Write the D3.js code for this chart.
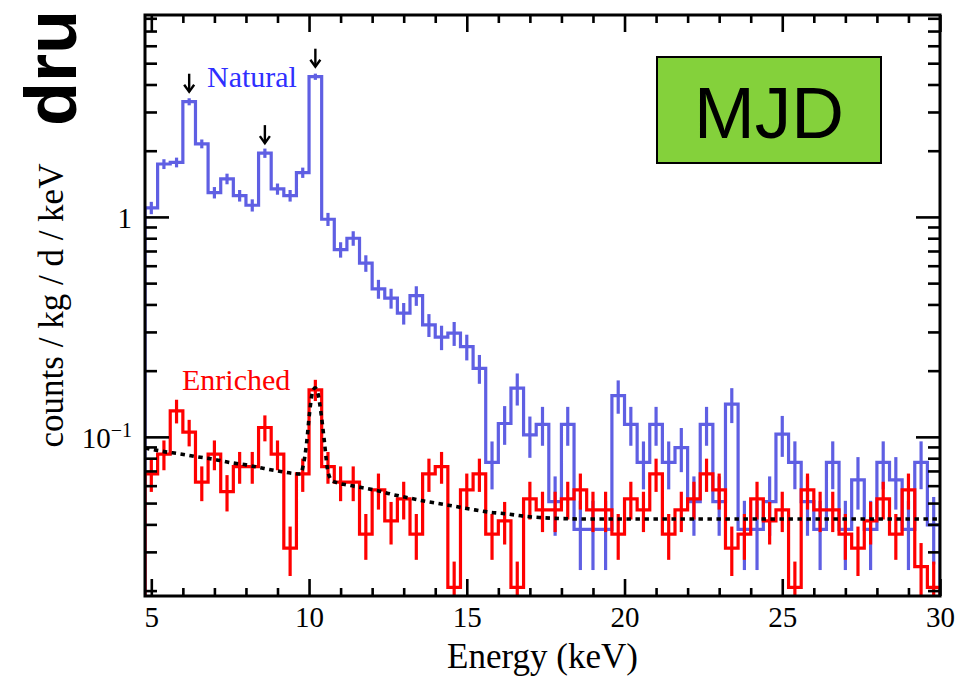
<!DOCTYPE html>
<html>
<head>
<meta charset="utf-8">
<script src="https://cdn.jsdelivr.net/npm/d3@7"></script>
<style>
  body { margin: 0; background: #fff; }
</style>
</head>
<body>
<svg id="chart"></svg>
<script>
// bin centres (keV), bins are 0.4 keV wide
const binCenter = [5.0, 5.4, 5.8, 6.2, 6.6, 7.0, 7.4, 7.8, 8.2, 8.6,
  9.0, 9.4, 9.8, 10.2, 10.6, 11.0, 11.4, 11.8, 12.2, 12.6,
  13.0, 13.4, 13.8, 14.2, 14.6, 15.0, 15.4, 15.8, 16.2, 16.6,
  17.0, 17.4, 17.8, 18.2, 18.6, 19.0, 19.4, 19.8, 20.2, 20.6,
  21.0, 21.4, 21.8, 22.2, 22.6, 23.0, 23.4, 23.8, 24.2, 24.6,
  25.0, 25.4, 25.8, 26.2, 26.6, 27.0, 27.4, 27.8, 28.2, 28.6,
  29.0, 29.4, 29.8];
const binWidth = 0.4;

const naturalRate = [1.10, 1.74, 1.77, 3.34, 2.15, 1.29, 1.49, 1.25, 1.13, 1.95,
  1.34, 1.25, 1.59, 4.34, 0.976, 0.71, 0.80, 0.616, 0.471, 0.427,
  0.365, 0.439, 0.323, 0.284, 0.296, 0.257, 0.205, 0.0765, 0.115, 0.1665,
  0.102, 0.114, 0.0508, 0.114, 0.038, 0.038, 0.038, 0.154, 0.114, 0.0765,
  0.114, 0.0765, 0.0894, 0.0508, 0.114, 0.0508, 0.141, 0.038, 0.038, 0.0508,
  0.1028, 0.0766, 0.0508, 0.038, 0.0766, 0.038, 0.0638, 0.038, 0.0766, 0.0638,
  0.038, 0.0766, 0.0398];
const naturalErr = [0.0711, 0.0895, 0.0902, 0.124, 0.0994, 0.077, 0.0828, 0.0758, 0.0721, 0.0947,
  0.0785, 0.0758, 0.0855, 0.141, 0.067, 0.0571, 0.0607, 0.0532, 0.0465, 0.0443,
  0.041, 0.0449, 0.0385, 0.0361, 0.0369, 0.0344, 0.0307, 0.0188, 0.023, 0.0277,
  0.0217, 0.0229, 0.0153, 0.0229, 0.0132, 0.0132, 0.0132, 0.0266, 0.0229, 0.0188,
  0.0229, 0.0188, 0.0203, 0.0153, 0.0229, 0.0153, 0.0255, 0.0132, 0.0132, 0.0153,
  0.0217, 0.0188, 0.0153, 0.0132, 0.0188, 0.0132, 0.0171, 0.0132, 0.0188, 0.0171,
  0.0132, 0.0188, 0.0135];

const enrichedRate = [0.0679, 0.0834, 0.1313, 0.105, 0.0622, 0.0834, 0.0564, 0.0733, 0.0733, 0.1103,
  0.0834, 0.0312, 0.0679, 0.1636, 0.0733, 0.0622, 0.0622, 0.0361, 0.0574, 0.0415,
  0.0523, 0.0361, 0.0679, 0.0733, 0.0207, 0.0574, 0.0679, 0.0361, 0.0415, 0.0207,
  0.0523, 0.0466, 0.0466, 0.0523, 0.0574, 0.0466, 0.0466, 0.0361, 0.0523, 0.0466,
  0.0679, 0.0361, 0.0466, 0.0523, 0.0679, 0.0574, 0.0312, 0.0361, 0.0523, 0.0415,
  0.0466, 0.0207, 0.0574, 0.0466, 0.0466, 0.0361, 0.0312, 0.0415, 0.0523, 0.0361,
  0.0574, 0.0257, 0.0207];
const enrichedErr = [0.0117, 0.0129, 0.0162, 0.0145, 0.0112, 0.0129, 0.0106, 0.0121, 0.0121, 0.0149,
  0.0129, 0.0079, 0.0117, 0.0181, 0.0121, 0.0112, 0.0112, 0.0085, 0.0107, 0.0091,
  0.0102, 0.0085, 0.0117, 0.0121, 0.0064, 0.0107, 0.0117, 0.0085, 0.0091, 0.0064,
  0.0102, 0.0097, 0.0097, 0.0102, 0.0107, 0.0097, 0.0097, 0.0085, 0.0102, 0.0097,
  0.0117, 0.0085, 0.0097, 0.0102, 0.0117, 0.0107, 0.0079, 0.0085, 0.0102, 0.0091,
  0.0097, 0.0064, 0.0107, 0.0097, 0.0097, 0.0085, 0.0079, 0.0091, 0.0102, 0.0085,
  0.0107, 0.0072, 0.0064];

// background + peak fit on the enriched spectrum
const fitEnergy = [4.8, 5.4, 5.9, 6.4, 7.0, 7.5, 8.0, 8.5, 9.0, 9.5,
  9.72, 9.82, 9.92, 10.02, 10.11, 10.19, 10.28, 10.38, 10.48, 10.58,
  10.68, 10.8, 11.2, 11.7, 12.2, 12.6, 13.1, 13.6, 14.15, 14.7,
  15.2, 15.7, 16.3, 16.8, 17.3, 18.0, 19.0, 30.0];
const fitRate = [0.089, 0.0857, 0.0837, 0.0814, 0.079, 0.0764, 0.0746, 0.0722, 0.07, 0.0682,
  0.0678, 0.0746, 0.093, 0.13, 0.16, 0.167, 0.158, 0.128, 0.097, 0.072,
  0.0645, 0.0625, 0.0605, 0.0587, 0.0568, 0.0549, 0.053, 0.0512, 0.0496, 0.0481,
  0.0467, 0.0455, 0.0446, 0.0436, 0.043, 0.0425, 0.0423, 0.0423];

const peakEnergy = [6.2, 8.6, 10.2];
const xMajor = [5, 10, 15, 20, 25, 30];
const yMajor = [0.1, 1];

const serifFont = "Liberation Serif";
const sansFont = "Liberation Sans";

const width = 974, height = 676;
const plot = {left: 145, right: 940, top: 15, bottom: 596};

const svg = d3.select("#chart")
  .attr("width", width)
  .attr("height", height);

const x = d3.scaleLinear()
  .domain([4.8, 30])
  .range([plot.left, plot.right]);
const y = d3.scaleLog()
  .domain([0.0189, 8.28])
  .range([plot.bottom, plot.top]);

svg.append("defs").append("clipPath")
  .attr("id", "clip")
  .append("rect")
  .attr("x", plot.left).attr("y", plot.top)
  .attr("width", plot.right - plot.left)
  .attr("height", plot.bottom - plot.top);

const g = svg.append("g").attr("clip-path", "url(#clip)");

function histPoints(rates){
  var pts = [[x.domain()[0], y.domain()[0]]];
  rates.forEach(function(v, i){
    pts.push([binCenter[i] - binWidth / 2, v]);
    pts.push([binCenter[i] + binWidth / 2, v]);
  });
  pts.push([x.domain()[1], y.domain()[0]]);
  return pts;
}

const histLine = d3.line()
  .x((d) => x(d[0]))
  .y((d) => y(Math.max(d[1], y.domain()[0])));

function drawHist(rates, errs, colour){
  g.append("path")
   .datum(histPoints(rates))
   .attr("d", histLine)
   .attr("fill", "none")
   .attr("stroke", colour)
   .attr("stroke-width", 3.2)
   .attr("stroke-linejoin", "miter");

  g.selectAll(null)
   .data(rates)
   .enter()
   .append("line")
   .attr("x1", (d, i) => x(binCenter[i]))
   .attr("x2", (d, i) => x(binCenter[i]))
   .attr("y1", (d, i) => y(Math.max(d - errs[i], 0.005)))
   .attr("y2", (d, i) => y(d + errs[i]))
   .attr("stroke", colour)
   .attr("stroke-width", 3.2);
}

drawHist(naturalRate, naturalErr, "#5f5fe3");
drawHist(enrichedRate, enrichedErr, "#ff0000");

// fit curve
g.append("path")
 .datum(fitEnergy.map((e, i) => [e, fitRate[i]]))
 .attr("d", d3.line().x((d) => x(d[0])).y((d) => y(d[1])).curve(d3.curveMonotoneX))
 .attr("fill", "none")
 .attr("stroke", "#000")
 .attr("stroke-width", 3.6)
 .attr("stroke-dasharray", "4.5,4.5");

// arrows over the natural peaks
peakEnergy.forEach(function(e){
  var i = binCenter.findIndex((c) => Math.abs(c - e) < 0.01);
  var px = x(e);
  var tip = y(naturalRate[i]) - 10;
  svg.append("line")
     .attr("x1", px).attr("x2", px)
     .attr("y1", tip - 18).attr("y2", tip)
     .attr("stroke", "#000").attr("stroke-width", 2.4);
  svg.append("path")
     .attr("d", "M" + (px - 5) + "," + (tip - 7) + "L" + px + "," + tip + "L" + (px + 5) + "," + (tip - 7))
     .attr("fill", "none").attr("stroke", "#000").attr("stroke-width", 2.4);
});

// axes: ticks drawn inward on all four sides
const xMinor = d3.range(5, 31, 1).filter((d) => xMajor.indexOf(d) < 0);
const yMinor = y.ticks().filter((d) => yMajor.indexOf(d) < 0);

function styleAxis(sel){
  sel.attr("font-family", null).attr("font-size", null);
  sel.select(".domain").remove();
  sel.selectAll(".tick line").attr("stroke", "#000").attr("stroke-width", 2.6);
}

svg.append("g")
   .attr("transform", "translate(0," + plot.bottom + ")")
   .call(d3.axisBottom(x).tickValues(xMajor).tickSize(-17).tickPadding(10))
   .call(styleAxis)
   .selectAll("text")
   .style("font-family", serifFont)
   .style("font-size", "29px")
   .attr("fill", "#000");
svg.append("g")
   .attr("transform", "translate(0," + plot.bottom + ")")
   .call(d3.axisBottom(x).tickValues(xMinor).tickSize(-8).tickFormat(""))
   .call(styleAxis);
svg.append("g")
   .attr("transform", "translate(0," + plot.top + ")")
   .call(d3.axisTop(x).tickValues(xMajor).tickSize(-17).tickFormat(""))
   .call(styleAxis);
svg.append("g")
   .attr("transform", "translate(0," + plot.top + ")")
   .call(d3.axisTop(x).tickValues(xMinor).tickSize(-8).tickFormat(""))
   .call(styleAxis);

const yAxisG = svg.append("g")
   .attr("transform", "translate(" + plot.left + ",0)")
   .call(d3.axisLeft(y).tickValues(yMajor).tickSize(-24).tickFormat(""))
   .call(styleAxis);
svg.append("g")
   .attr("transform", "translate(" + plot.left + ",0)")
   .call(d3.axisLeft(y).tickValues(yMinor).tickSize(-12).tickFormat(""))
   .call(styleAxis);
svg.append("g")
   .attr("transform", "translate(" + plot.right + ",0)")
   .call(d3.axisRight(y).tickValues(yMajor).tickSize(-24).tickFormat(""))
   .call(styleAxis);
svg.append("g")
   .attr("transform", "translate(" + plot.right + ",0)")
   .call(d3.axisRight(y).tickValues(yMinor).tickSize(-12).tickFormat(""))
   .call(styleAxis);

// y tick labels: 1 and 10^-1
yAxisG.selectAll(".tick").each(function(d){
  var t = d3.select(this).append("text")
    .attr("x", -13)
    .attr("dy", "0.35em")
    .attr("text-anchor", "end")
    .style("font-family", serifFont)
    .style("font-size", "29px")
    .attr("fill", "#000");
  if (d === 1) {
    t.text("1");
  } else {
    t.append("tspan").text("10");
    t.append("tspan").attr("dy", -11).style("font-size", "20px").text("\u22121");
  }
});

// frame
svg.append("rect")
   .attr("x", plot.left).attr("y", plot.top)
   .attr("width", plot.right - plot.left)
   .attr("height", plot.bottom - plot.top)
   .attr("fill", "none")
   .attr("stroke", "#000")
   .attr("stroke-width", 3);

// axis titles
svg.append("text")
   .attr("x", (plot.left + plot.right) / 2)
   .attr("y", 668)
   .attr("text-anchor", "middle")
   .style("font-family", serifFont)
   .style("font-size", "35px")
   .text("Energy (keV)");
svg.append("text")
   .attr("transform", "translate(63," + ((plot.top + plot.bottom) / 2) + ") rotate(-90)")
   .attr("text-anchor", "middle")
   .style("font-family", serifFont)
   .style("font-size", "35px")
   .text("counts / kg / d / keV");

// series labels
svg.append("text")
   .attr("x", 207).attr("y", 87)
   .style("font-family", serifFont)
   .style("font-size", "30px")
   .attr("fill", "#2f2fff")
   .text("Natural");
svg.append("text")
   .attr("x", 182).attr("y", 390)
   .style("font-family", serifFont)
   .style("font-size", "30px")
   .attr("fill", "#ff0000")
   .text("Enriched");

// MJD badge
svg.append("rect")
   .attr("x", 657).attr("y", 57)
   .attr("width", 224).attr("height", 106)
   .attr("fill", "#84d13b")
   .attr("stroke", "#000")
   .attr("stroke-width", 2);
svg.append("text")
   .attr("x", 769).attr("y", 138)
   .attr("text-anchor", "middle")
   .style("font-family", sansFont)
   .style("font-size", "73px")
   .text("MJD");

// cropped heading on the left edge
svg.append("text")
   .attr("transform", "translate(76,126) rotate(-90)")
   .style("font-family", sansFont)
   .style("font-weight", "bold")
   .style("font-size", "72px")
   .text("dru");
</script>
</body>
</html>
